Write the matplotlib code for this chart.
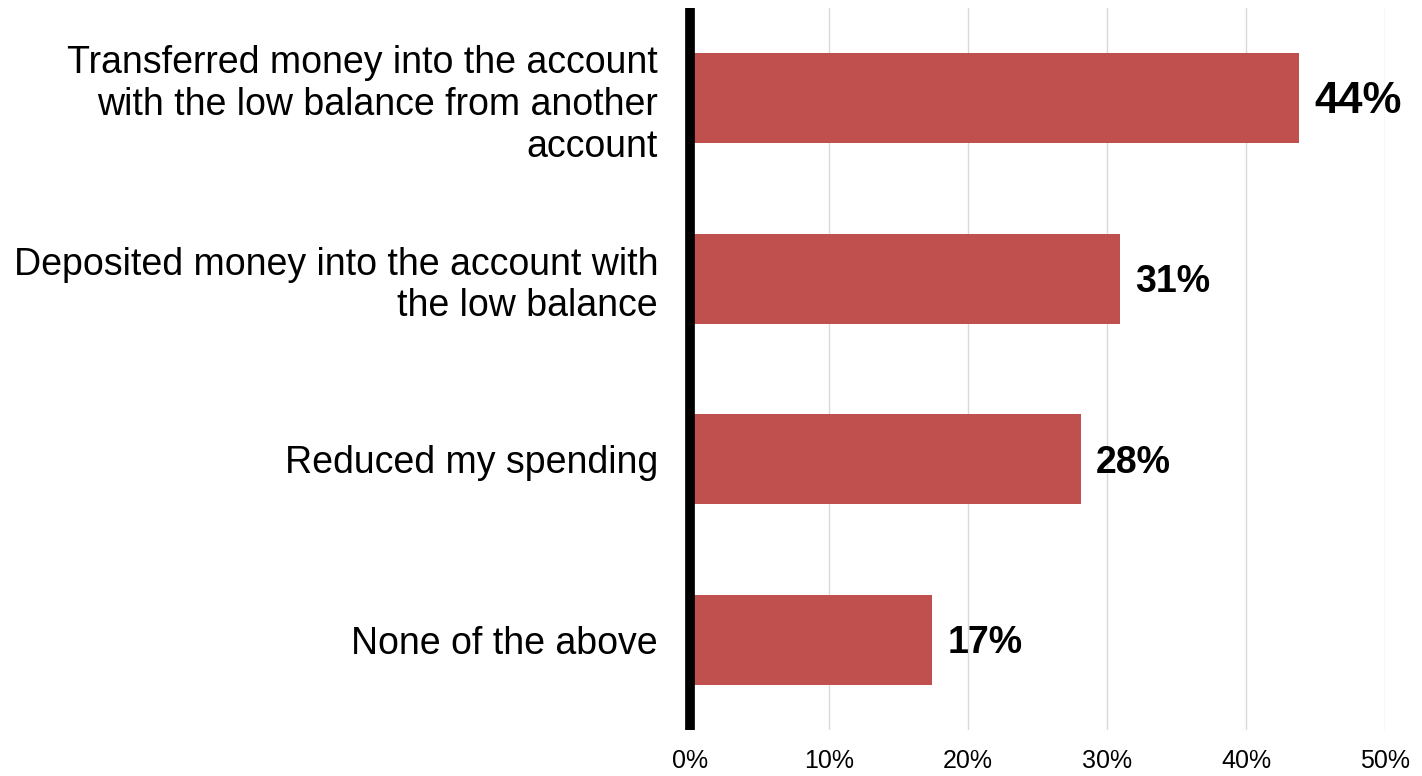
import numpy as np
import matplotlib.pyplot as plt

plt.rcParams['font.family'] = ['Liberation Sans', 'DejaVu Sans']

# data
categories = ['Transferred money into the account\nwith the low balance from another\naccount',
              'Deposited money into the account with\nthe low balance',
              'Reduced my spending',
              'None of the above']
values = [43.8, 30.9, 28.1, 17.4]
value_sizes = [31.5, 27, 27, 27]
ticks = [0, 10, 20, 30, 40, 50]
tick_labels = ['0%', '10%', '20%', '30%', '40%', '50%']

fig = plt.figure(figsize=(14.22, 7.76), dpi=100)
ax = fig.add_axes([690 / 1422, 1 - 730 / 776, 695 / 1422, 722 / 776])

y = np.arange(len(categories))
ax.barh(y, values, height=0.5, color='#C0504D', zorder=2)

for yi, v, fs in zip(y, values, value_sizes):
    ax.text(v + 1.1, yi + 0.02, '%d%%' % round(v), va='center', ha='left',
            fontsize=fs, fontweight='bold', color='black')

ax.set_xlim(0, 50)
ax.set_ylim(3.5, -0.5)
ax.set_xticks(ticks)
ax.set_xticklabels(tick_labels, fontsize=18)
ax.set_yticks(y)
ax.set_yticklabels(categories, fontsize=27, linespacing=1.2)
ax.tick_params(axis='both', length=0)
ax.tick_params(axis='x', pad=14)
ax.tick_params(axis='y', pad=23)

ax.grid(axis='x', color='#D9D9D9', linewidth=1, zorder=0)
ax.set_axisbelow(True)
for s in ['top', 'right', 'bottom']:
    ax.spines[s].set_visible(False)
ax.spines['left'].set_linewidth(7)
ax.spines['left'].set_color('black')
ax.spines['left'].set_capstyle('butt')
ax.spines['left'].set_zorder(3)

fig.savefig('out.png', dpi=100)
